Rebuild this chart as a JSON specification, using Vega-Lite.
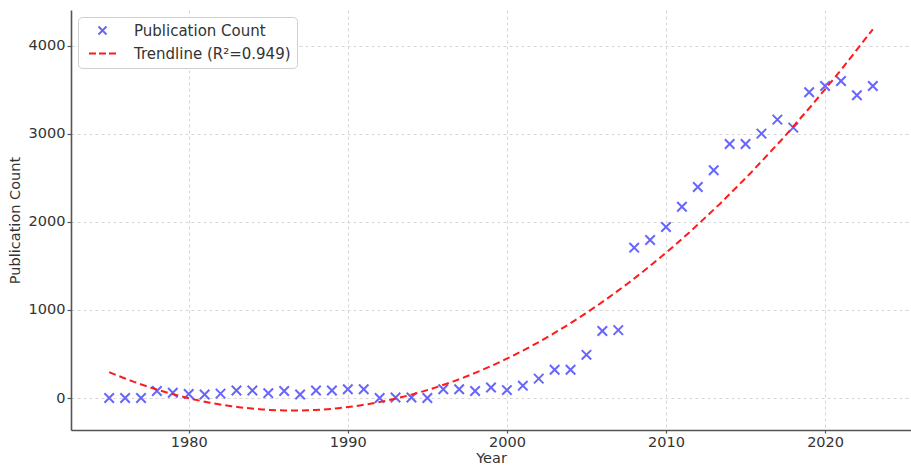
{
  "$schema": "https://vega.github.io/schema/vega-lite/v6.json",
  "autosize": {"type": "none"},
  "width": 840,
  "height": 420,
  "padding": {"left": 71, "top": 10, "right": 0, "bottom": 38},
  "background": "white",
  "config": {
    "view": {"stroke": null},
    "font": "DejaVu Sans",
    "axis": {
      "labelFont": "DejaVu Sans",
      "titleFont": "DejaVu Sans",
      "labelFontSize": 14.5,
      "titleFontSize": 14.5,
      "titleFontWeight": "normal",
      "labelColor": "#333333",
      "titleColor": "#333333",
      "domainColor": "#555555",
      "domainWidth": 1.6,
      "tickColor": "#555555",
      "tickWidth": 1.2,
      "gridColor": "#cccccc",
      "gridDash": [3, 3],
      "gridWidth": 0.8
    }
  },
  "data": {
    "values": [
      {"year": 1975, "count": 0}, {"year": 1976, "count": 0}, {"year": 1977, "count": 0},
      {"year": 1978, "count": 80}, {"year": 1979, "count": 60}, {"year": 1980, "count": 45},
      {"year": 1981, "count": 40}, {"year": 1982, "count": 50}, {"year": 1983, "count": 85},
      {"year": 1984, "count": 85}, {"year": 1985, "count": 55}, {"year": 1986, "count": 80},
      {"year": 1987, "count": 40}, {"year": 1988, "count": 85}, {"year": 1989, "count": 85},
      {"year": 1990, "count": 100}, {"year": 1991, "count": 100}, {"year": 1992, "count": 0},
      {"year": 1993, "count": 5}, {"year": 1994, "count": 5}, {"year": 1995, "count": 0},
      {"year": 1996, "count": 100}, {"year": 1997, "count": 100}, {"year": 1998, "count": 80},
      {"year": 1999, "count": 120}, {"year": 2000, "count": 90}, {"year": 2001, "count": 140},
      {"year": 2002, "count": 220}, {"year": 2003, "count": 320}, {"year": 2004, "count": 320},
      {"year": 2005, "count": 490}, {"year": 2006, "count": 760}, {"year": 2007, "count": 770},
      {"year": 2008, "count": 1706}, {"year": 2009, "count": 1793}, {"year": 2010, "count": 1941},
      {"year": 2011, "count": 2171}, {"year": 2012, "count": 2395}, {"year": 2013, "count": 2584},
      {"year": 2014, "count": 2883}, {"year": 2015, "count": 2883}, {"year": 2016, "count": 3000},
      {"year": 2017, "count": 3159}, {"year": 2018, "count": 3068}, {"year": 2019, "count": 3470},
      {"year": 2020, "count": 3541}, {"year": 2021, "count": 3598}, {"year": 2022, "count": 3436},
      {"year": 2023, "count": 3541}
    ]
  },
  "layer": [
    {
      "mark": {"type": "point", "filled": false, "size": 90, "strokeWidth": 2, "opacity": 1},
      "encoding": {
        "x": {"field": "year", "type": "quantitative", "scale": {"domain": [1972.6, 2025.4], "nice": false, "zero": false},
          "axis": {"title": "Year", "values": [1980, 1990, 2000, 2010, 2020], "format": "d", "grid": true, "tickSize": 3, "labelPadding": 2, "titlePadding": 3}},
        "y": {"field": "count", "type": "quantitative", "scale": {"domain": [-363, 4403], "nice": false, "zero": false},
          "axis": {"title": "Publication Count", "values": [0, 1000, 2000, 3000, 4000], "format": "d", "grid": true, "tickSize": 4, "labelPadding": 2, "titlePadding": 6}},
        "shape": {
          "datum": "Publication Count",
          "type": "nominal",
          "scale": {
            "domain": ["Publication Count", "Trendline (R²=0.949)"],
            "range": ["M-1,-1L1,1M1,-1L-1,1", "M-3.375,0L-1.625,0M-0.875,0L0.875,0M1.625,0L3.375,0"]
          },
          "legend": null
        },
        "color": {
          "datum": "Publication Count",
          "type": "nominal",
          "scale": {"domain": ["Publication Count", "Trendline (R²=0.949)"], "range": ["#6666ff", "#ff1a1a"]},
          "legend": {
            "title": null,
            "orient": "top-left",
            "offset": 7,
            "padding": 6,
            "fillColor": "white",
            "strokeColor": "#d0d0d0",
            "cornerRadius": 4,
            "labelFont": "DejaVu Sans",
            "labelFontSize": 15,
            "labelColor": "#333333",
            "symbolSize": 64,
            "symbolStrokeWidth": 2,
            "symbolOffset": 11,
            "rowPadding": 7,
            "labelOffset": 24,
            "encode": {
              "symbols": {
                "update": {
                  "shape": {"signal": "datum.value === 'Publication Count' ? 'M-1,-1L1,1M1,-1L-1,1' : 'M-3.375,0L-1.625,0M-0.875,0L0.875,0M1.625,0L3.375,0'"},
                  "fill": {"value": "transparent"}
                }
              }
            }
          }
        }
      }
    },
    {
      "transform": [
        {"regression": "count", "on": "year", "method": "poly", "order": 2, "extent": [1975, 2023]}
      ],
      "mark": {"type": "line", "strokeDash": [7, 4], "strokeWidth": 2},
      "encoding": {
        "x": {"field": "year", "type": "quantitative"},
        "y": {"field": "count", "type": "quantitative"},
        "color": {"datum": "Trendline (R²=0.949)", "type": "nominal"}
      }
    }
  ]
}
